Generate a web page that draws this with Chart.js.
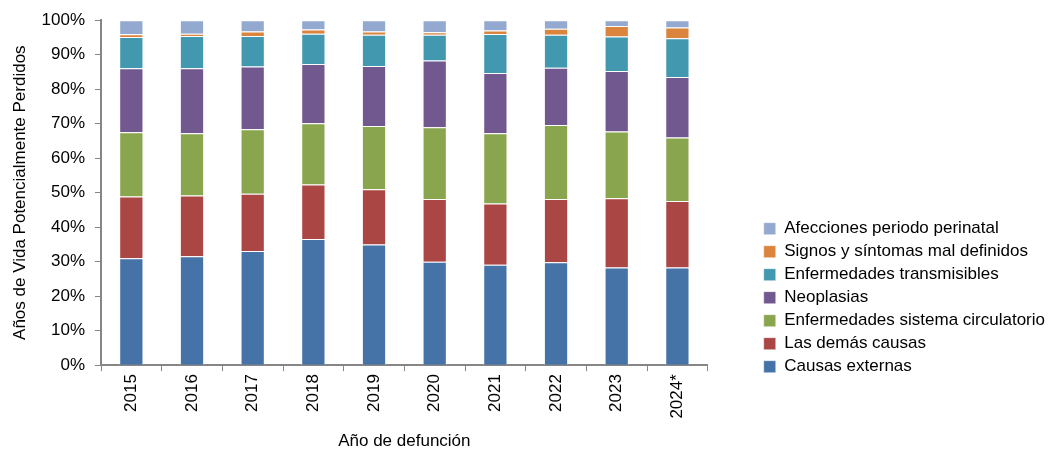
<!DOCTYPE html>
<html>
<head>
<meta charset="utf-8">
<script src="https://cdn.jsdelivr.net/npm/chart.js@4/dist/chart.umd.min.js"></script>
<style>
  html, body { margin: 0; padding: 0; background: #fff; }
  #wrap { width: 1055px; height: 454px; }
</style>
</head>
<body>
<div id="wrap"><canvas id="grafico"></canvas></div>
<script>
const anios = ["2015", "2016", "2017", "2018", "2019", "2020", "2021", "2022", "2023", "2024*"];

const causasExternas = [31.0, 31.6, 33.1, 36.6, 35.0, 30.0, 29.1, 29.8, 28.3, 28.3];
const demasCausas = [17.9, 17.6, 16.6, 15.8, 16.0, 18.2, 17.8, 18.4, 20.1, 19.3];
const sistemaCirculatorio = [18.6, 18.0, 18.7, 17.7, 18.3, 20.8, 20.3, 21.4, 19.3, 18.4];
const neoplasias = [18.6, 18.9, 18.2, 17.2, 17.4, 19.3, 17.5, 16.6, 17.6, 17.5];
const transmisibles = [9.0, 9.3, 8.8, 8.8, 9.1, 7.5, 11.3, 9.6, 10.0, 11.3];
const malDefinidos = [0.8, 0.7, 1.3, 1.2, 0.9, 0.7, 1.0, 1.7, 3.0, 3.1];
const perinatal = [4.1, 3.9, 3.3, 2.7, 3.3, 3.5, 3.0, 2.5, 1.7, 2.1];

const ticksY = [0, 10, 20, 30, 40, 50, 60, 70, 80, 90, 100];

const fuente = "'Liberation Sans', Arial, sans-serif";
const gris = "#868686";

function serie(label, data, color) {
  return {
    label: label,
    data: data,
    backgroundColor: color,
    borderColor: "rgba(255,255,255,0.45)",
    borderWidth: 1,
    barPercentage: 0.4,
    categoryPercentage: 1.0,
  };
}

// baja un poco la leyenda para alinearla con el pie del eje
const bajarLeyenda = {
  id: "bajarLeyenda",
  afterLayout(chart) {
    const leyenda = chart.legend;
    if (leyenda) {
      leyenda.top += 16;
      leyenda.bottom += 16;
    }
  },
};

const ctx = document.getElementById("grafico").getContext("2d");

new Chart(ctx, {
  type: "bar",
  data: {
    labels: anios,
    datasets: [
      serie("Causas externas", causasExternas, "#4572A7"),
      serie("Las demás causas", demasCausas, "#AA4643"),
      serie("Enfermedades sistema circulatorio", sistemaCirculatorio, "#89A54E"),
      serie("Neoplasias", neoplasias, "#71588F"),
      serie("Enfermedades transmisibles", transmisibles, "#4198AF"),
      serie("Signos y síntomas mal definidos", malDefinidos, "#DB843D"),
      serie("Afecciones periodo perinatal", perinatal, "#93A9CF"),
    ],
  },
  plugins: [bajarLeyenda],
  options: {
    responsive: true,
    maintainAspectRatio: false,
    animation: false,
    layout: {
      padding: { top: 3, right: 0, bottom: 2, left: 10 },
    },
    plugins: {
      tooltip: { enabled: false },
      legend: {
        position: "right",
        align: "end",
        fullSize: false,
        reverse: true,
        maxWidth: 420,
        labels: {
          boxWidth: 12,
          boxHeight: 12,
          padding: 6,
          color: "#000",
          font: { family: fuente, size: 17 },
        },
      },
    },
    scales: {
      x: {
        stacked: true,
        grid: {
          display: true,
          drawOnChartArea: false,
          color: gris,
          tickLength: 6,
        },
        border: { color: gris, width: 2 },
        ticks: {
          minRotation: 90,
          maxRotation: 90,
          color: "#000",
          font: { family: fuente, size: 17 },
        },
        title: {
          display: true,
          text: "Año de defunción",
          color: "#000",
          font: { family: fuente, size: 17 },
          padding: { top: 10, bottom: 0 },
        },
      },
      y: {
        stacked: true,
        min: 0,
        max: 100,
        afterBuildTicks: (escala) => {
          escala.ticks = ticksY.map((v) => ({ value: v }));
        },
        afterFit: (escala) => {
          escala.width = 91;
        },
        grid: {
          display: true,
          drawOnChartArea: false,
          color: gris,
          tickLength: 6,
        },
        border: { color: gris, width: 2 },
        ticks: {
          color: "#000",
          padding: 10,
          font: { family: fuente, size: 17 },
          callback: (v) => v + "%",
        },
        title: {
          display: true,
          text: "Años de Vida Potencialmente Perdidos",
          color: "#000",
          font: { family: fuente, size: 17 },
          padding: { top: 0, bottom: 4 },
        },
      },
      espacio: {
        position: "right",
        display: true,
        grid: { display: false },
        border: { display: false },
        ticks: { display: false },
        afterFit: (escala) => {
          escala.width = 50;
        },
      },
    },
  },
});
</script>
</body>
</html>
